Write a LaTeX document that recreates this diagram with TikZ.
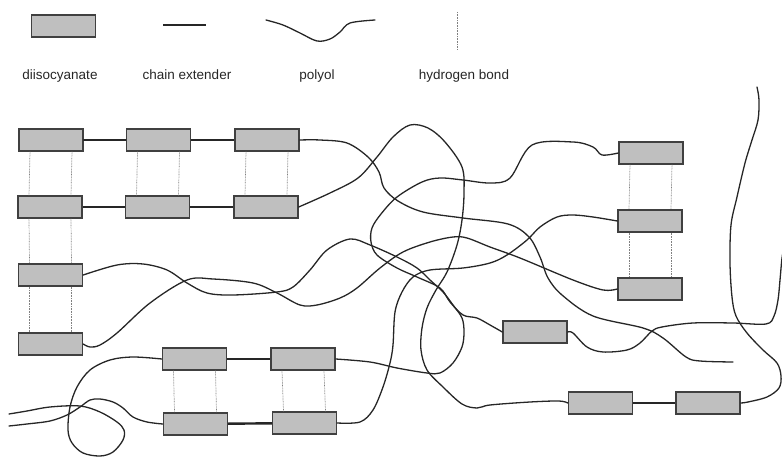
\documentclass[tikz,border=0pt]{standalone}
\usepackage{fontspec}
\setmainfont{Liberation Sans}
\begin{document}
\begin{tikzpicture}[x=1pt,y=-1pt,
  unit/.style={draw=black!75, fill=black!25, line width=1.4pt,
    minimum width=64pt, minimum height=22pt, inner sep=0pt},
  extender/.style={line width=2.4pt, draw=black!85},
  chain/.style={line width=1.3pt, draw=black!85, line join=round, line cap=round},
  hbond/.style={line width=0.7pt, draw=black!50, dash pattern=on 0.8pt off 0.8pt},
  lbl/.style={font=\fontsize{13.5}{16}\selectfont, anchor=base, text=black!85, inner sep=0pt},
  soft/.style={smooth, tension=0.55}
]
\useasboundingbox (0,0) rectangle (782,457);

% ---------- key ----------
\node[unit] (keybox) at (63.5,26) {};
\coordinate (keyceA) at (163,25);
\coordinate (keyceB) at (206,25);
\draw[extender] (keyceA) -- (keyceB);
\coordinate (keypoA) at (266,20);
\coordinate (keypoB) at (375,20);
\draw[chain] plot[soft] coordinates {(keypoA) (283,25) (300,33) (317,41) (330,39) (340,32) (350,23) (keypoB)};
\coordinate (keyhbA) at (457,12);
\coordinate (keyhbB) at (457,49);
\draw[hbond] (keyhbA) -- (keyhbB);

\node[lbl] (tdi) at (60,80) {diisocyanate};
\node[lbl] (tce) at (187,80) {chain extender};
\node[lbl] (tpo) at (317,80) {polyol};
\node[lbl] (thb) at (464,80) {hydrogen bond};

% ---------- hard segments ----------
\node[unit] (b11) at (51,140) {};
\node[unit] (b12) at (158.5,140) {};
\node[unit] (b13) at (267,140) {};
\node[unit] (b21) at (50,207) {};
\node[unit] (b22) at (157.5,207) {};
\node[unit] (b23) at (266,207) {};
\node[unit] (b3) at (50.5,275) {};
\node[unit] (b4) at (50.5,344) {};

\node[unit] (g11) at (194.5,359) {};
\node[unit] (g12) at (303,359) {};
\node[unit] (g21) at (195.5,424) {};
\node[unit] (g22) at (304.5,423) {};

\node[unit] (r1) at (651,153) {};
\node[unit] (r2) at (650,221) {};
\node[unit] (r3) at (650,289) {};

\node[unit] (m) at (535,332) {};
\node[unit] (br1) at (600.5,403) {};
\node[unit] (br2) at (708,403) {};

% hydrogen bonds between stacked segments
\foreach \u/\l in {b11/b21, b12/b22, b13/b23, b21/b3, b3/b4, r1/r2, r2/r3, g11/g21, g12/g22} {
  \draw[hbond] ([xshift=-21pt]\u.south) -- ([xshift=-21pt]\l.north);
  \draw[hbond] ([xshift=21pt]\u.south) -- ([xshift=21pt]\l.north);
}

% chain extenders and short links
\draw[chain] (b11) -- (b12);
\draw[extender] (b12) -- (b13);
\draw[extender] (b21) -- (b22);
\draw[extender] (b22) -- (b23);
\draw[extender] (g11) -- (g12);
\draw[extender] (g21) -- (g22);
\draw[extender] (br1) -- (br2);

% ---------- polyol chains ----------
\coordinate (endA) at (733,362);
\coordinate (endG) at (784,248);
\coordinate (endH) at (757,87);
\coordinate (endI) at (9,414);
\coordinate (endJ) at (9,426);

\draw[chain] plot[soft] coordinates {(b13.east) (320,140) (347,143) (368,157) (379,172) (384,188) (398,201) (423,212) (463,218) (508,224) (529,237) (540,257) (548,278) (562,295) (593,316) (643,328) (663,338) (686,357) (700,361) (endA)};

\draw[chain] plot[soft] coordinates {(b23.east) (330,193) (358,178) (377,157) (393,137) (410,125) (428,128) (445,142) (462,167) (464,193) (462,220) (457,245) (447,272) (436,290) (427,308) (422,328) (421,350) (427,370) (443,387) (462,404) (477,408) (490,405) (530,402) (559,401) (br1.west)};

\draw[chain] plot[soft] coordinates {(r1.west) (602,155) (593,147) (573,142) (532,145) (510,178) (490,183) (463,180) (440,178) (422,182) (397,197) (381,214) (372,228) (371,242) (377,255) (397,268) (417,277) (440,288) (450,302) (463,315) (477,318) (490,325) (m.west)};

\draw[chain] plot[soft] coordinates {(r2.west) (593,217) (573,215) (557,217) (540,227) (527,240) (507,255) (490,263) (463,268) (430,270) (413,277) (402,292) (395,312) (393,345) (390,363) (383,387) (373,410) (360,422) (g22.east)};

\draw[chain] plot[soft] coordinates {(b4.east) (90,347) (100,345) (117,333) (150,303) (187,280) (213,279) (253,283) (277,293) (300,305) (317,305) (340,298) (357,288) (380,268) (403,252) (430,242) (453,237) (467,238) (490,247) (520,258) (573,280) (603,290) (r3.west)};

\draw[chain] plot[soft] coordinates {(b3.east) (117,265) (143,264) (167,270) (187,283) (207,293) (233,295) (277,292) (293,287) (310,270) (327,250) (350,239) (370,245) (397,257) (417,268) (430,280) (443,292) (453,305) (462,318) (464,332) (462,347) (453,363) (440,373) (427,373) (397,368) (370,362) (g12.east)};

\draw[chain] plot[soft] coordinates {(m.east) (573,333) (587,347) (603,352) (627,350) (640,343) (652,331) (662,327) (693,323) (733,323) (766,324) (774,316) (778,300) (780,280) (782,258) (endG)};

\draw[chain] plot[soft] coordinates {(endH) (759,100) (758,120) (752,140) (745,163) (737,197) (731,225) (730,263) (732,297) (736,316) (747,333) (763,350) (777,363) (781,376) (779,388) (767,397) (748,402) (br2.east)};

\draw[chain] plot[soft] coordinates {(g11.west) (133,357) (110,360) (90,370) (77,387) (70,407) (68,430) (72,443) (83,453) (100,456) (113,452) (123,440) (124,430) (117,422) (100,412) (80,406) (50,407) (27,411) (endI)};

\draw[chain] plot[soft] coordinates {(g21.west) (147,422) (133,417) (123,408) (113,402) (100,399) (90,400) (80,407) (67,415) (50,421) (27,424) (endJ)};
\end{tikzpicture}
\end{document}
